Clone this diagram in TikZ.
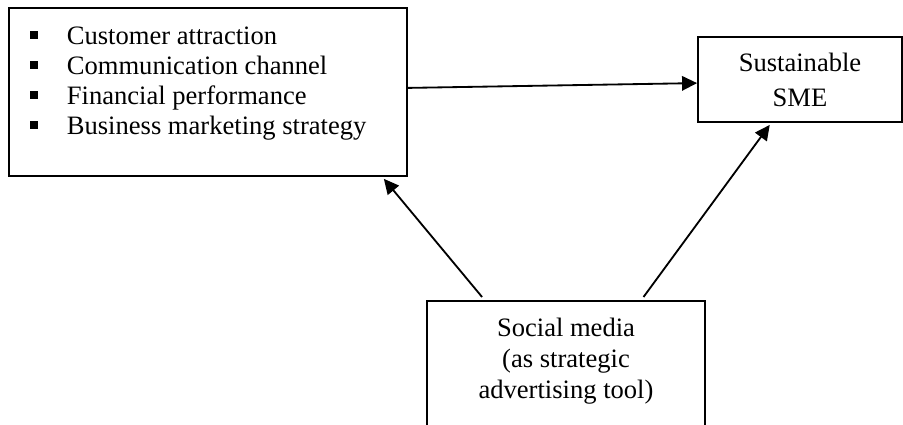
\documentclass[tikz,border=0pt]{standalone}
\usepackage{fontspec}
\setmainfont{Liberation Serif}
\usetikzlibrary{arrows.meta, calc}

\newcommand{\sqbullet}{\rule[0.15cm]{0.2cm}{0.2cm}\hspace{0.715cm}}

\begin{document}
\begin{tikzpicture}[
    box/.style={draw, line width=1.3pt, inner sep=0pt},
    link/.style={-{Triangle[length=0.375cm, width=0.36cm]}, line width=1.3pt}
  ]
  \useasboundingbox (0,0) rectangle (22.575,10.625);
  \clip (0,0) rectangle (22.575,10.625);

  % factors box
  \node[box, anchor=north west, minimum width=9.95cm, minimum height=4.2cm]
    (factors) at (0.2,10.45) {};
  \node[anchor=north west, inner sep=0pt, align=left,
        font=\fontsize{18.9}{21.34}\selectfont]
    (factorlist) at ($(factors.north west)+(0.55,-0.5)$)
    {\sqbullet Customer attraction\\
     \sqbullet Communication channel\\
     \sqbullet Financial performance\\
     \sqbullet Business marketing strategy};

  % sustainable SME
  \node[box, minimum width=5.1cm, minimum height=2.125cm, align=center,
        font=\fontsize{18.9}{24.9}\selectfont]
    (sme) at (20.0,8.6375) {Sustainable\\SME};

  % social media box (runs off the page)
  \node[box, anchor=north, minimum width=6.95cm, minimum height=4cm]
    (social) at (14.15,3.125) {};
  \node[anchor=north, inner sep=0pt, align=center,
        font=\fontsize{18.9}{21.9}\selectfont]
    (socialtext) at ($(social.north)+(0,-0.45)$)
    {Social media\\(as strategic\\advertising tool)};

  % links
  \draw[link] ($(factors.east)+(0,0.1)$) -- ($(sme.west)+(0,-0.09)$);
  \draw[link] ($(social.north west)!0.2!(social.north east)+(0,0.075)$)
    -- ($(factors.south west)!0.94!(factors.south east)+(0,-0.05)$);
  \draw[link] ($(social.north west)!0.777!(social.north east)+(0,0.075)$)
    -- ($(sme.south west)!0.353!(sme.south east)+(0,-0.05)$);

\end{tikzpicture}
\end{document}
